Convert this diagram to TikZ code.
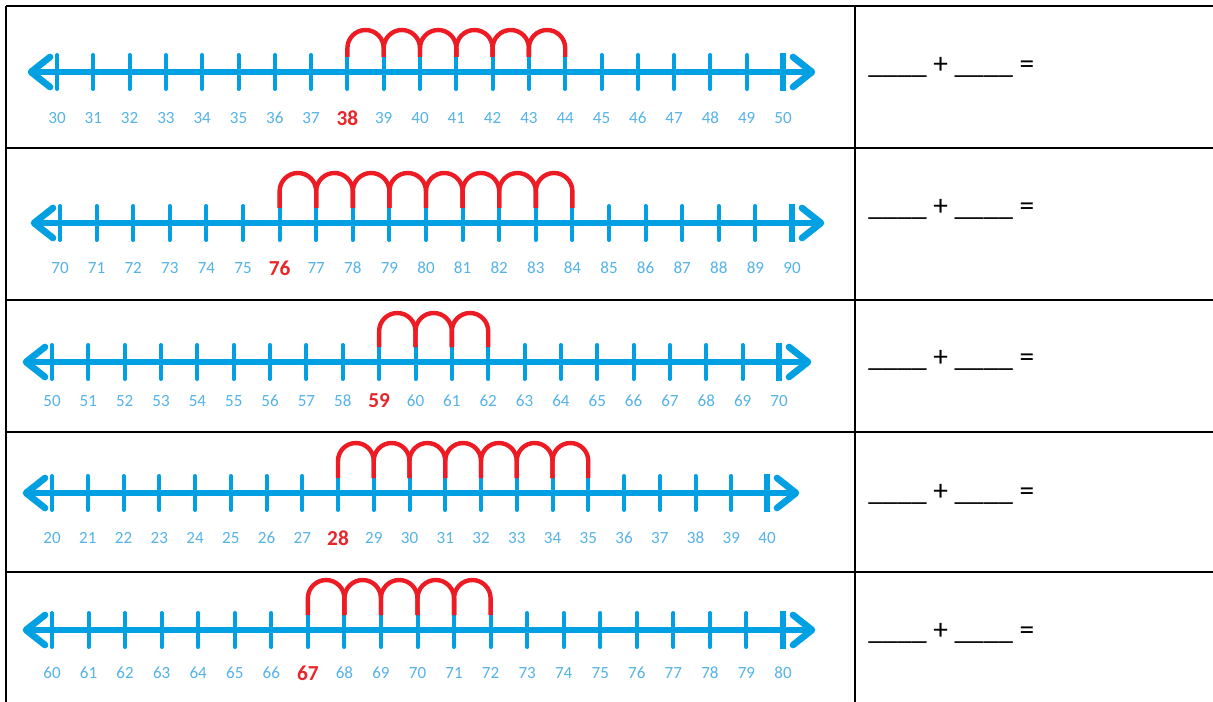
\documentclass[tikz,border=0pt]{standalone}
\usepackage{fontspec}
\setmainfont{Carlito}
\definecolor{nlblue}{HTML}{00A0E3}
\definecolor{lblblue}{HTML}{55B3E8}
\definecolor{arcred}{HTML}{ED1C24}
\definecolor{lblred}{HTML}{E8262A}
\tikzset{
  axisline/.style={nlblue, line width=3.8pt},
  chev/.style={nlblue, line width=5pt, line cap=round, line join=round},
  tickline/.style={nlblue, line width=3pt, line cap=round},
  arcline/.style={arcred, line width=3.3pt, line join=round},
  bluelbl/.style={lblblue, inner sep=0pt, font=\fontsize{12.8}{14}\selectfont},
  redlbl/.style={lblred, inner sep=0pt, font=\bfseries\fontsize{16}{18}\selectfont},
  tbl/.style={black, line width=1.6pt},
  sumtxt/.style={black, inner sep=0pt, font=\fontsize{22}{26}\selectfont}
}
% #1 axis y, #2 first tick x, #3 last tick x, #4 start value, #5 red index,
% #6 number of arcs, #7 label y, #8 arc top y, #9 name prefix
\newcommand\myNumLine[9]{%
  \pgfmathsetmacro\mydx{(#3-#2)/20}%
  \pgfmathsetmacro\myr{\mydx/2}%
  \draw[axisline] (#2-26,#1) -- (#3+29,#1);
  \draw[chev] (#2-7,#1-15) -- (#2-26,#1) -- (#2-7,#1+15);
  \draw[chev] (#3+10,#1-15) -- (#3+29,#1) -- (#3+10,#1+15);
  \foreach \i in {0,...,20}{%
    \pgfmathsetmacro\xx{#2+\i*\mydx}%
    \pgfmathtruncatemacro\vv{#4+\i}%
    \draw[tickline] (\xx,#1-17) -- (\xx,#1+17);
    \ifnum\i=#5\relax
      \node[redlbl] (#9-\i) at (\xx,#7) {\vv};
    \else
      \node[bluelbl] (#9-\i) at (\xx,#7) {\vv};
    \fi
  }
  \draw[nlblue, line width=4.5pt] (#3,#1-19) -- (#3,#1+19);
  \foreach \j in {1,...,#6}{%
    \pgfmathsetmacro\xa{#2+(#5+\j-1)*\mydx}%
    \pgfmathsetmacro\xb{\xa+\mydx}%
    \pgfmathsetmacro\xm{\xa+\myr}%
    \pgfmathsetmacro\cy{#8+\myr}%
    \pgfmathsetmacro\kk{0.5523*\myr}%
    \draw[arcline] (\xa,#1-15) -- (\xa,\cy) .. controls (\xa,\cy-\kk) and (\xm-\kk,#8) .. (\xm,#8) .. controls (\xm+\kk,#8) and (\xb,\cy-\kk) .. (\xb,\cy) -- (\xb,#1-15);
  }
}
\begin{document}
\begin{tikzpicture}[x=0.75pt, y=-0.75pt]
\useasboundingbox (0,0) rectangle (1213,702);
\fill[white] (0,0) rectangle (1213,702);
% table
\draw[tbl] (6,6) -- (1213,6);
\draw[tbl] (6,148) -- (1213,148);
\draw[tbl] (6,300) -- (1213,300);
\draw[tbl] (6,432) -- (1213,432);
\draw[tbl] (6,572) -- (1213,572);
\draw[tbl] (6,6) -- (6,702);
\draw[tbl] (855,6) -- (855,702);
% number lines
\myNumLine{72}{57}{783}{30}{8}{6}{118}{30}{ra}
\myNumLine{223}{60}{792}{70}{6}{8}{268}{173}{rb}
\myNumLine{362}{52}{779}{50}{9}{3}{401}{313}{rc}
\myNumLine{493}{52}{767}{20}{8}{7}{538}{443}{rd}
\myNumLine{630}{52}{783}{60}{7}{5}{673}{580}{re}
% sums
\node[sumtxt, anchor=base west] (sa) at (868,74) {\_\_\_\_ + \_\_\_\_ =};
\node[sumtxt, anchor=base west] (sb) at (868,216) {\_\_\_\_ + \_\_\_\_ =};
\node[sumtxt, anchor=base west] (sc) at (868,366) {\_\_\_\_ + \_\_\_\_ =};
\node[sumtxt, anchor=base west] (sd) at (868,500) {\_\_\_\_ + \_\_\_\_ =};
\node[sumtxt, anchor=base west] (se) at (868,639) {\_\_\_\_ + \_\_\_\_ =};
\end{tikzpicture}
\end{document}
